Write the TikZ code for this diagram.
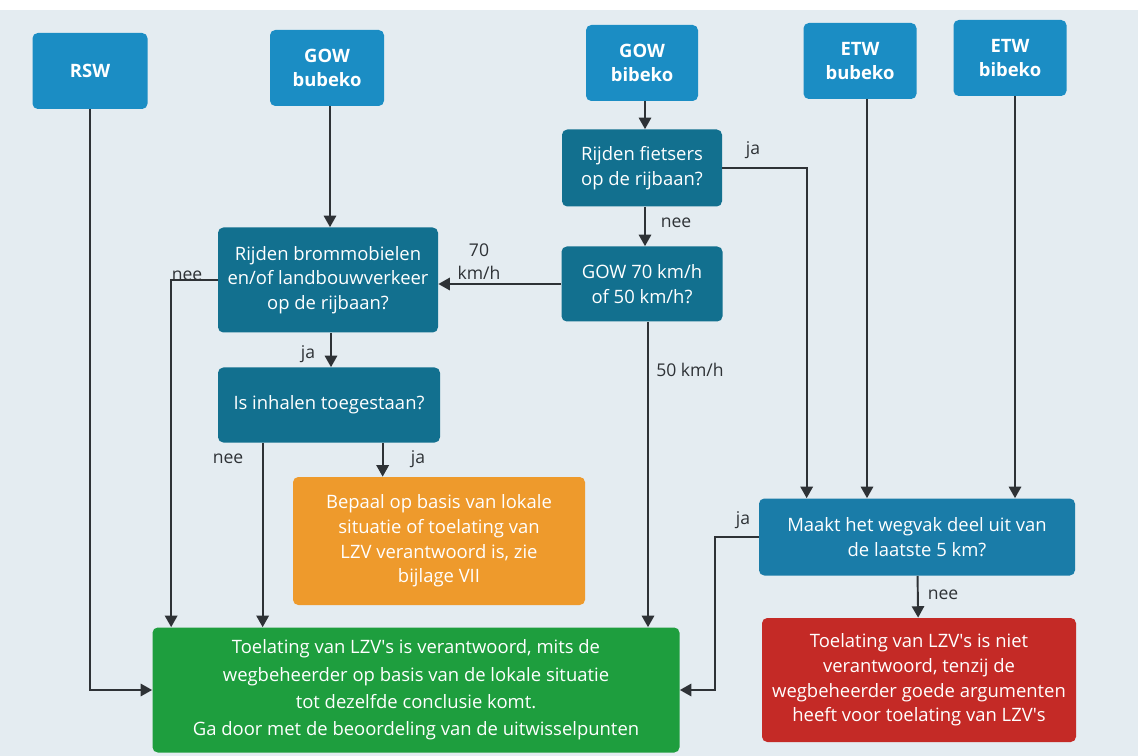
\documentclass[tikz,border=0pt]{standalone}
\usepackage{fontspec}
\setmainfont{Open Sans}
\usetikzlibrary{calc}
\usetikzlibrary{arrows.meta}
\definecolor{color_flow_bg}{HTML}{E4ECF1}
\definecolor{color_flow_start}{HTML}{1B8DC4}
\definecolor{color_flow_question}{HTML}{12708F}
\definecolor{color_flow_check}{HTML}{1A7CA8}
\definecolor{color_flow_orange}{HTML}{EE9A2C}
\definecolor{color_flow_green}{HTML}{1E9E3E}
\definecolor{color_flow_red}{HTML}{C42A26}
\definecolor{color_flow_line}{HTML}{2E3236}
\def\flowcornerradius{3pt}
\def\flowtextsize{\fontsize{10.5}{14}\selectfont}
\def\lzvs{LZV\textquotesingle s}
\tikzset{
    flowbox/.style={rounded corners=\flowcornerradius, text=white, align=center, inner sep=2pt, font=\flowtextsize},
    startbox/.style={flowbox, fill=color_flow_start, font=\flowtextsize\bfseries, minimum width=#1*0.02cm, minimum height=76*0.02cm},
    questionbox/.style 2 args={flowbox, fill=color_flow_question, minimum width=#1*0.02cm, minimum height=#2*0.02cm},
    arr/.style={color_flow_line, line width=1.1pt, -{Triangle[width=7pt,length=6.5pt]}},
    lbl/.style={text=color_flow_line, font=\fontsize{10}{13}\selectfont, align=center, inner sep=1pt}
}

\begin{document}
\begin{tikzpicture}[x=0.02cm, y=-0.02cm]
        \useasboundingbox (0,0) rectangle (1138,756);
        \fill[color_flow_bg] (0,10) rectangle (1138,756);
        % start boxes
        \node[startbox=115] (rsw) at (90,71) {RSW};
        \node[startbox=114] (gowbu) at (327,68) {GOW\\bubeko};
        \node[startbox=112] (gowbi) at (642,63) {GOW\\bibeko};
        \node[startbox=113] (etwbu) at (860,61) {ETW\\bubeko};
        \node[startbox=113] (etwbi) at (1010,58) {ETW\\bibeko};
        % questions
        \node[questionbox={220}{105}] (brom) at (328,280) {Rijden brommobielen\\en/of landbouwverkeer\\op de rijbaan?};
        \node[questionbox={222}{75}] (inhalen) at (329,405) {Is inhalen toegestaan?};
        \node[questionbox={160}{77}] (fietsers) at (642,168) {Rijden fietsers\\op de rijbaan?};
        \node[questionbox={161}{75}] (gow70) at (642,284) {GOW 70 km/h\\of 50 km/h?};
        \node[questionbox={316}{77}, fill=color_flow_check] (maakt) at (917,537) {Maakt het wegvak deel uit van\\de laatste 5 km?};
        % outcomes
        \node[flowbox, fill=color_flow_orange, minimum width=292*0.02cm, minimum height=128*0.02cm] (lzv) at (439,541) {Bepaal op basis van lokale\\situatie of toelating van\\LZV verantwoord is, zie\\bijlage VII};
        \node[flowbox, fill=color_flow_green, minimum width=527*0.02cm, minimum height=125*0.02cm, font=\fontsize{10.5}{15.5}\selectfont] (green) at (416,690) {Toelating van \lzvs{} is verantwoord, mits de\\wegbeheerder op basis van de lokale situatie\\tot dezelfde conclusie komt.\\Ga door met de beoordeling van de uitwisselpunten};
        \node[flowbox, fill=color_flow_red, minimum width=314*0.02cm, minimum height=124*0.02cm] (red) at (919,680) {Toelating van \lzvs{} is niet\\verantwoord, tenzij de\\wegbeheerder goede argumenten\\heeft voor toelating van \lzvs};
        % connectors
        \draw[arr] (rsw.south) |- (green.west);
        \draw[arr] ($(gowbu.south)+(3,0)$) coordinate (gowbuend) -- (gowbuend |- brom.north);
        \draw[arr] (brom.west) -| ($(green.north west)+(19,0)$);
        \draw[arr] ($(brom.south)+(3,0)$) coordinate (bromja) -- (bromja |- inhalen.north);
        \draw[arr] ($(inhalen.south west)+(45,0)$) coordinate (inhnee) -- (inhnee |- green.north);
        \draw[arr] ($(inhalen.south west)+(165,0)$) coordinate (inhja) -- (inhja |- lzv.north);
        \draw[arr] ($(gowbi.south)+(3,0)$) coordinate (gowbiend) -- (gowbiend |- fietsers.north);
        \draw[arr] ($(fietsers.south)+(3,0)$) coordinate (fietsnee) -- (fietsnee |- gow70.north);
        \draw[arr] (fietsers.east) -| ($(maakt.north west)+(48,0)$);
        \draw[arr] (gow70.west) -- (gow70.west -| brom.east);
        \draw[arr] ($(gow70.south)+(6,0)$) coordinate (gow50) -- (gow50 |- green.north);
        \draw[arr] ($(etwbu.south)+(7,0)$) coordinate (etwbuend) -- (etwbuend |- maakt.north);
        \draw[arr] ($(etwbi.south)+(5,0)$) coordinate (etwbiend) -- (etwbiend |- maakt.north);
        \draw[arr] (maakt.west) -- ++(-44,0) |- (green.east);
        \draw[arr] (maakt) -- (red);
        % labels
        \node[lbl] (lblbromnee) at (187,276) {nee};
        \node[lbl] (lblbromja) at (308,354) {ja};
        \node[lbl] (lbl70) at (479,262) {70\\km/h};
        \node[lbl] (lblinhnee) at (228,459) {nee};
        \node[lbl] (lblinhja) at (418,459) {ja};
        \node[lbl] (lblfietsja) at (753,150) {ja};
        \node[lbl] (lblfietsnee) at (676,223) {nee};
        \node[lbl] (lbl50) at (690,370) {50 km/h};
        \node[lbl] (lblmaaktja) at (743,520) {ja};
        \node[lbl] (lblmaaktnee) at (943,595) {nee};
    \end{tikzpicture}
\end{document}
